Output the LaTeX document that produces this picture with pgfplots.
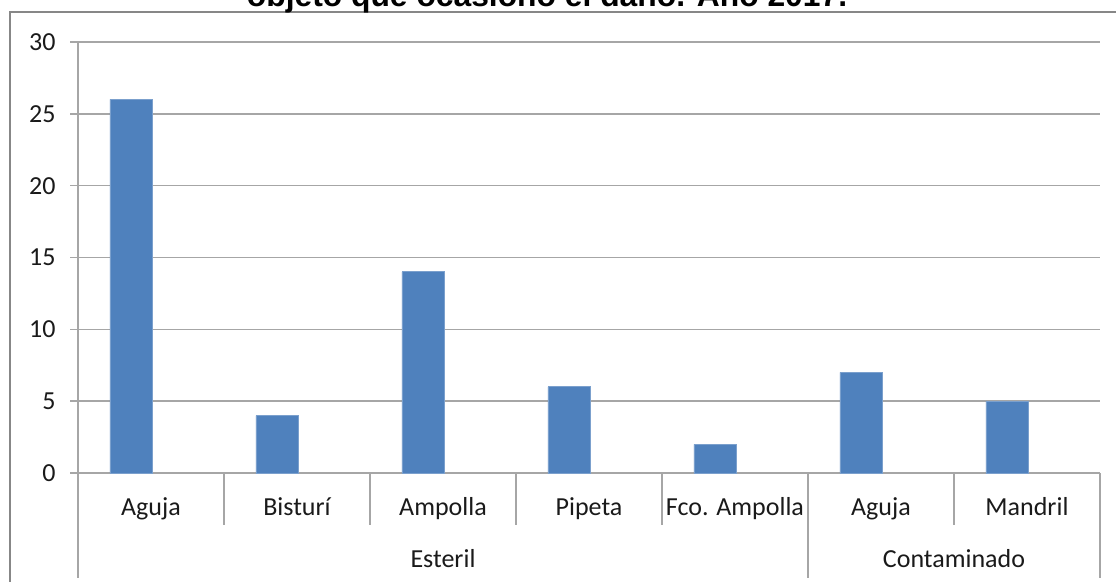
\documentclass[border=0pt]{standalone}
\usepackage{pgfplots}
\pgfplotsset{compat=1.18}
\usetikzlibrary{calc}
\usepackage{fontspec}
\setmainfont{Carlito}
\newfontfamily\titlefont{Liberation Sans}
\definecolor{barblue}{HTML}{4F81BD}
\definecolor{gridgray}{HTML}{A6A6A6}
\definecolor{framegray}{HTML}{878787}
\definecolor{labelgray}{HTML}{1A1A1A}
\begin{document}
\begin{tikzpicture}
\useasboundingbox (0,0) rectangle (558pt,291pt);
\clip (0,0) rectangle (558pt,291pt);
\draw[framegray, line width=0.8pt] (5pt,-20pt) rectangle (600pt,285pt);
\node[anchor=base, inner sep=0pt, font=\titlefont\bfseries\fontsize{15.9}{18}\selectfont] at (273.5pt,287.5pt) {objeto que ocasionó el daño. Año 2017.};
\begin{axis}[
  at={(39pt,54.5pt)}, anchor=south west,
  scale only axis, width=511pt, height=215.5pt,
  xmin=0, xmax=7, ymin=0, ymax=30,
  clip=false,
  axis x line=bottom, axis y line=left,
  axis line style={-, draw=gridgray, line width=0.75pt},
  ytick={0,5,...,30},
  ymajorgrids, grid style={draw=gridgray, line width=0.75pt},
  tick align=outside, major tick length=4pt,
  ytick style={draw=gridgray, line width=0.75pt},
  xtick={0.5,1.5,...,6.5},
  xticklabels={Aguja,Bisturí,Ampolla,Pipeta,Fco. Ampolla,Aguja,Mandril},
  major x tick style={draw=none},
  xticklabel style={anchor=base, inner sep=0pt, yshift=-17.5pt},
  yticklabel style={anchor=east, inner sep=0pt, xshift=-7pt},
  /pgf/number format/assume math mode=true,
  tick label style={font=\fontsize{13}{15}\selectfont, text=labelgray},
]
\addplot[ybar, bar width=0.288, fill=barblue, draw=barblue!75!white, line width=0.4pt]
  coordinates {(0.363,26) (1.363,4) (2.363,14) (3.363,6) (4.363,2) (5.363,7) (6.363,5)};
\draw[gridgray, line width=0.75pt] (axis cs:0,0) -- (axis cs:0,-7.31);
\pgfplotsinvokeforeach{1,2,3,4,6}{\draw[gridgray, line width=0.75pt] (axis cs:#1,0) -- (axis cs:#1,-3.62);}
\draw[gridgray, line width=0.75pt] (axis cs:5,0) -- (axis cs:5,-7.31);
\draw[gridgray, line width=0.75pt] (axis cs:7,0) -- (axis cs:7,-7.31);
\node[anchor=base, inner sep=0pt, text=labelgray, font=\fontsize{13}{15}\selectfont] at ($(axis cs:2.5,0)+(0,-47.5pt)$) {Esteril};
\node[anchor=base, inner sep=0pt, text=labelgray, font=\fontsize{13}{15}\selectfont] at ($(axis cs:6,0)+(0,-47.5pt)$) {Contaminado};
\end{axis}
\end{tikzpicture}
\end{document}
